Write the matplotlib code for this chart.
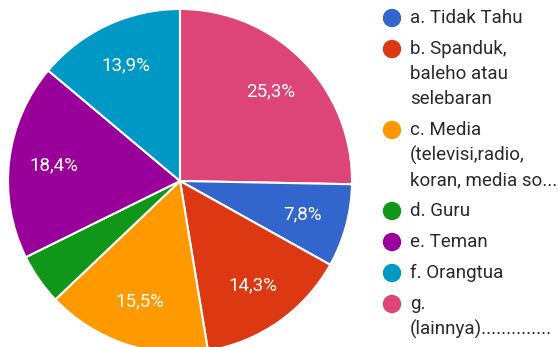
import matplotlib.pyplot as plt
from matplotlib.patches import Ellipse

# Pie slices, drawn clockwise from 12 o'clock
slice_names = ['g', 'a', 'b', 'c', 'd', 'e', 'f']
slice_values = [25.3, 7.8, 14.3, 15.5, 4.8, 18.4, 13.9]
slice_colors = ['#DD4477', '#3366CC', '#DC3912', '#FF9900', '#109618', '#990099', '#0099C6']

# Legend entries (a..g)
legend_labels = [
    'a. Tidak Tahu',
    'b. Spanduk,\nbaleho atau\nselebaran',
    'c. Media\n(televisi,radio,\nkoran, media so...',
    'd. Guru',
    'e. Teman',
    'f. Orangtua',
    'g.\n(lainnya)..............',
]
legend_colors = ['#3366CC', '#DC3912', '#FF9900', '#109618', '#990099', '#0099C6', '#DD4477']

plt.rcParams['font.family'] = ['Roboto', 'DejaVu Sans']

W, H = 558, 347
fig = plt.figure(figsize=(W / 100, H / 100), dpi=100)

# pie centre at (180, 181) px, radius 172 px
cx, cy, r = 180, 181, 172
ax = fig.add_axes([(cx - r) / W, (H - cy - r) / H, 2 * r / W, 2 * r / H])


def pct_label(p):
    if p < 5:
        return ''
    return f'{p:.1f}%'.replace('.', ',')


wedges, texts, autotexts = ax.pie(
    slice_values, colors=slice_colors, startangle=90, counterclock=False,
    radius=1, autopct=pct_label, pctdistance=0.74,
    wedgeprops=dict(edgecolor='white', linewidth=1.5),
    textprops=dict(color='white', fontsize=13.5))
ax.set_xlim(-1, 1)
ax.set_ylim(-1, 1)
ax.set_aspect('equal')
ax.axis('off')

# legend drawn by hand so the dot sits at the first line of each entry
y = 18
line_step = 25
entry_gap = 6
for label, color in zip(legend_labels, legend_colors):
    fig.patches.append(Ellipse((392 / W, 1 - y / H), 17 / W, 17 / H,
                               transform=fig.transFigure, color=color, zorder=3))
    lines = label.split('\n')
    for k, line in enumerate(lines):
        fig.text(410 / W, 1 - (y + k * line_step) / H, line, fontsize=13.5,
                 color='#2a2a2a', va='center', ha='left')
    y += len(lines) * line_step + entry_gap

fig.savefig('out.png', dpi=100)
